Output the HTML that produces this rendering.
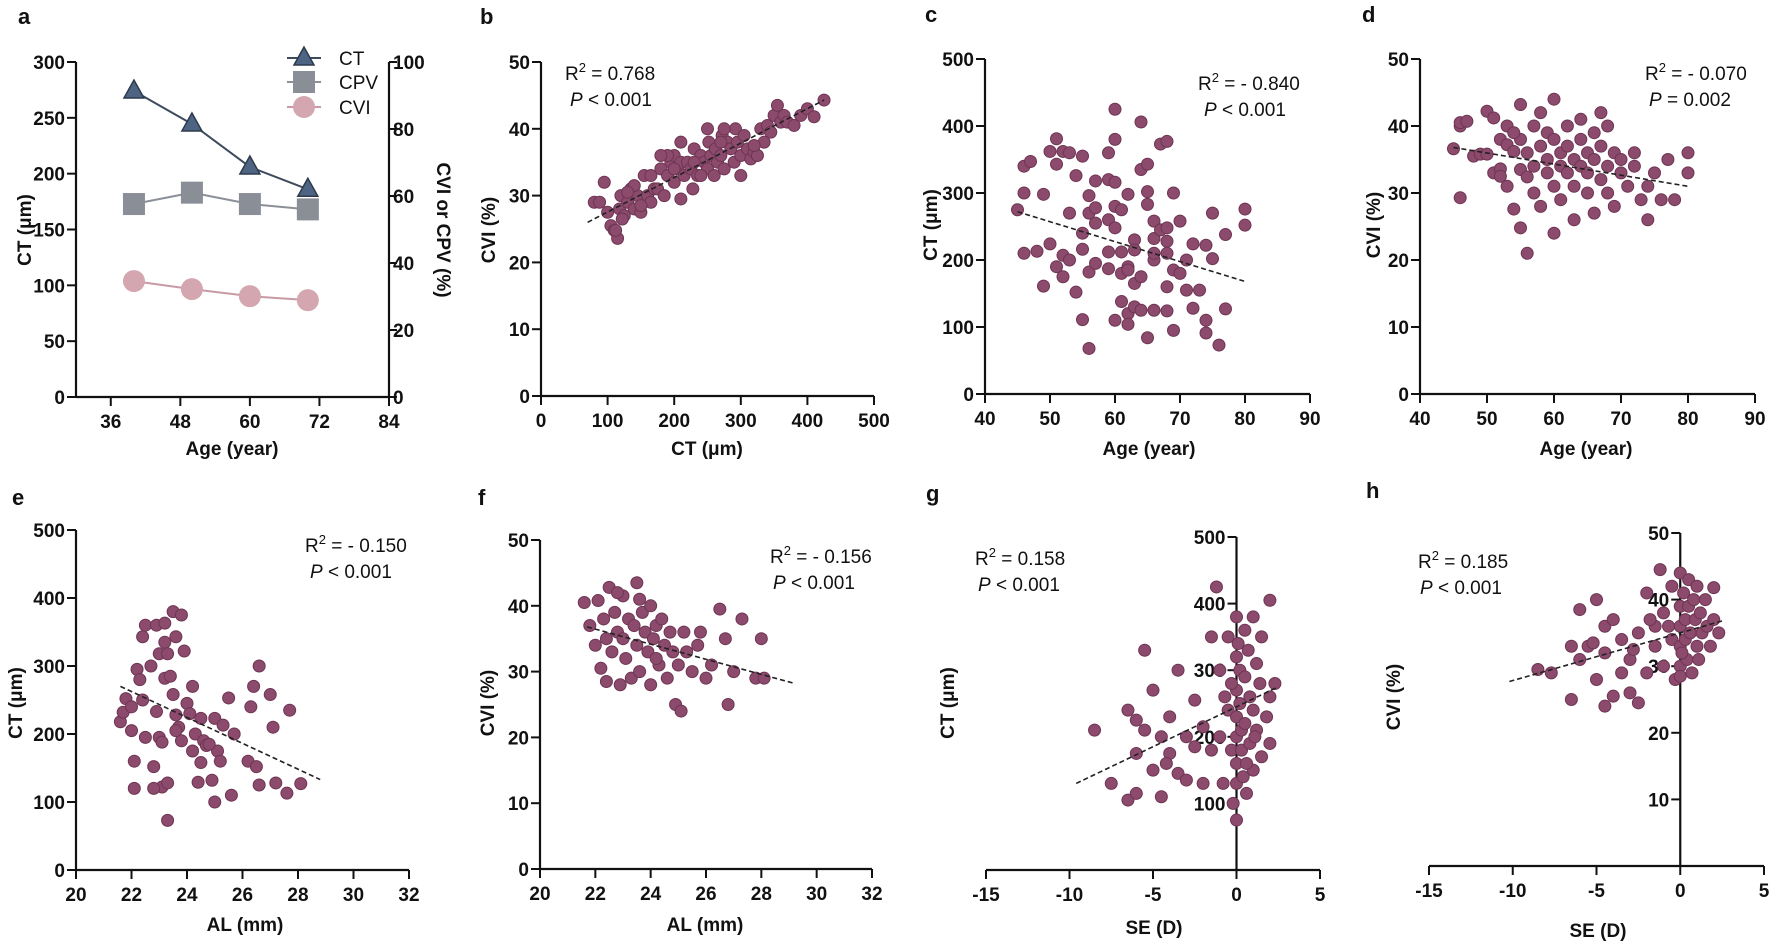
<!DOCTYPE html>
<html><head><meta charset="utf-8">
<style>
html,body{margin:0;padding:0;background:#fff;}
svg{display:block;font-family:"Liberation Sans",Arial,sans-serif;}
.tk{font-size:19px;font-weight:bold;fill:#111;}
.ttl{font-size:19px;font-weight:bold;fill:#111;}
.st{font-size:19px;fill:#111;}
.pl{font-size:22px;font-weight:bold;fill:#111;}
</style></head>
<body>
<svg id="fig" width="1772" height="945" viewBox="0 0 1772 945" xmlns="http://www.w3.org/2000/svg"></svg>
<script>
// ---- Panel a data ----
const aAges=[40,50,60,70];
const aCT=[274,244.5,206,186];
const aCPV=[57.6,61,57.6,56];
const aCVI=[34.6,32.2,30.1,28.9];
// ---- Panel b: CT vs CVI ----
const bX=[80,88,95,100,105,110,115,118,120,125,130,135,140,145,150,155,160,165,170,175,180,185,190,195,200,200,205,210,210,215,220,225,228,230,235,240,245,250,252,255,260,262,265,270,272,275,280,285,290,292,295,300,305,310,315,320,325,330,335,340,345,350,355,360,365,370,380,390,400,410,425,250,275,190,165,140,230,180,210,300,320,200,150,240,270,130,122,112];
const bY=[29,29,32,27.5,25.5,24.8,23.6,28,30,27,29,31,28,30,27.5,33,30,29,31,31,34,30,33,35,32,36,34,29.5,35,33,35,34,31,37,33,36,35,34,38,36,33,37,35,36,39,34,38,37,35,40,38,36,39,37,35.5,36.5,36,40,38,40.5,39.5,42,43.5,41,42,41,40.5,42,43,41.8,44.3,40,40,36,33,31.5,35,36,38,33,37.5,34,28.5,33,38,30.5,26.5,24.8];
// ---- Panel c: Age vs CT ----
const cX=[45,46,46,46,47,48,49,49,50,50,51,51,51,52,52,52,53,53,53,54,54,55,55,55,55,56,56,56,56,57,57,57,57,59,59,59,59,59,60,60,60,60,60,60,61,61,61,61,62,62,62,62,63,63,63,63,64,64,64,65,65,65,65,66,66,66,66,67,67,68,68,68,68,68,68,69,69,69,70,70,71,71,72,72,73,74,74,74,75,75,76,77,77,80,80,62,64,66];
const cY=[275,340,300,210,347,213,298,161,224,362,381,343,190,362,207,175,360,270,200,326,152,355,240,216,111,68,296,270,182,318,278,255,195,360,320,260,212,187,425,380,316,280,248,110,275,212,180,138,298,190,120,104,230,215,165,130,406,335,175,343,302,283,84,258,232,200,125,245,373,377,248,228,210,160,124,95,300,185,258,180,200,155,224,128,155,222,110,91,270,202,73,238,127,276,252,185,125,210];
// ---- Panel d: Age vs CVI ----
const dX=[45,46,46,46,47,48,49,50,50,51,51,52,52,52,53,53,53,54,54,55,55,55,55,56,56,56,57,57,57,58,58,58,59,59,59,60,60,60,60,61,61,61,62,62,62,63,63,63,64,64,64,65,65,65,66,66,66,67,67,67,68,68,68,69,69,70,70,71,72,72,73,74,74,75,76,77,78,80,80,54];
const dY=[36.6,29.3,40,40.5,40.7,35.5,35.8,42.2,35.8,41.2,33,33.6,38,32.5,40,37.2,31,27.6,36.2,43.2,38,24.8,33.5,21,36,32.4,40,34,30,37,28,42,35,33,39,44,38,24,31,36,34,29,40,33,37,35,31,26,38,34,41,36,30,33,39,27,35,42,32,37,34,30,40,36,28,33,35,31,34,36,29,31,26,33,29,35,29,36,33,39];
// ---- Panel e: AL vs CT ----
const eX=[21.6,21.7,21.8,22,22,22.1,22.1,22.2,22.3,22.4,22.4,22.5,22.7,22.8,22.9,22.9,23,23,23.1,23.1,23.2,23.2,23.2,23.3,23.3,23.4,23.5,23.5,23.6,23.6,23.7,23.8,23.8,23.9,24,24.1,24.2,24.2,24.3,24.4,24.5,24.5,24.6,24.7,24.9,25,25,25.1,25.2,25.3,25.5,25.6,25.7,26.2,26.3,26.4,26.5,26.6,26.6,27,27.1,27.2,27.6,27.7,28.1,22.5,23.3,23.6,22.8,24.8];
const eY=[218,232,252,240,205,120,160,295,280,343,250,360,300,152,360,233,318,195,188,122,363,335,282,73,128,285,380,258,343,228,210,375,190,322,245,230,270,175,200,129,158,223,190,183,132,223,100,175,160,213,253,110,200,160,240,270,152,300,125,258,210,128,113,235,127,195,318,205,120,185];
// ---- Panel f: AL vs CVI ----
const fX=[21.6,21.8,22,22.1,22.2,22.3,22.4,22.5,22.6,22.7,22.8,22.9,23,23,23.1,23.2,23.3,23.4,23.5,23.5,23.6,23.7,23.8,23.9,24,24,24.1,24.2,24.3,24.4,24.5,24.6,24.7,24.8,24.9,25,25.1,25.2,25.3,25.5,25.7,26,26.2,26.5,26.7,26.8,27,27.3,27.8,28,28.1,22.8,23.6,24.2,25.8,22.4];
const fY=[40.5,37,34,40.8,30.5,38,35,42.8,33,39,36,28,41.5,35,32,38,29,37,43.5,34,30,39,36,33,40,28,35,37,31,38,34,29,36,33,25,31,24,36,33,30,34,29,31,39.5,35,25,30,38,29,35,29,42,41,32,36,28.5];
// ---- Panel g: SE vs CT ----
const gX=[-8.5,-7.5,-6.5,-6.5,-6,-6,-5.5,-5.5,-5,-5,-4.5,-4.5,-4,-4,-3.5,-3.5,-3,-3,-2.5,-2.5,-2,-2,-1.5,-1.5,-1.2,-1,-1,-0.8,-0.5,-0.5,-0.3,-0.2,0,0,0,0,0,0,0,0,0.2,0.2,0.3,0.3,0.4,0.5,0.5,0.5,0.6,0.7,0.8,0.8,1,1,1,1.2,1.2,1.4,1.5,1.5,1.8,2,2,2,2.3,-0.3,0.1,0.6,-0.7,1.1,-6,-4.2];
const gY=[210,130,105,240,175,115,210,330,270,150,200,110,230,175,145,300,200,135,185,255,130,215,180,350,425,300,200,130,350,240,180,100,380,320,270,230,200,160,130,75,300,250,210,180,140,360,290,220,115,330,260,190,380,240,150,310,210,280,170,350,230,405,260,190,280,280,340,160,260,200,225,160];
// ---- Panel h: SE vs CVI ----
const hX=[-8.5,-7.7,-6.5,-6,-6,-5.5,-5,-5,-4.5,-4.5,-4.5,-4,-4,-3.5,-3.5,-3,-3,-2.5,-2.5,-2,-2,-1.5,-1.5,-1.2,-1,-1,-0.5,-0.5,-0.3,0,0,0,0,0,0,0.2,0.3,0.3,0.4,0.5,0.5,0.6,0.7,0.8,0.9,1,1,1.2,1.3,1.5,1.6,1.8,2,2,2.3,-0.7,0.1,1.1,-2.8,-1.8,-6.5,-5.2];
const hY=[29.5,29,25,38.5,31,33,40,28,32,36,24,37,25.5,29,34,31,26,35,24.5,29,41,33,36,44.5,38,30,42,34,28,44,39,36,33,30,28.5,41,37,34,31,43,39,35,29,40,37,42,33,38,35,40,36,33,41.8,37,35,36,32,31,32.5,37,33,33.5];
// ---- Regression line endpoints ----
const bLine=[[70,26],[425,44.3]];
const cLine=[[45,272],[80,168]];
const dLine=[[45,36.8],[80,31]];
const eLine=[[21.6,270],[28.8,133]];
const fLine=[[21.7,36.8],[29.2,28.2]];
const gLine=[[-9.6,130],[2.5,275]];
const hLine=[[-10.2,27.7],[2.5,36.8]];

const NS='http://www.w3.org/2000/svg';
const svg=document.getElementById('fig');
function mk(tag,attrs,parent,text){
  const e=document.createElementNS(NS,tag);
  for(const k in attrs)e.setAttribute(k,attrs[k]);
  if(text!==undefined)e.textContent=text;
  (parent||svg).appendChild(e);return e;
}
function scale(d0,d1,r0,r1){return v=>r0+(v-d0)/(d1-d0)*(r1-r0);}

function panel(p){
  const g=mk('g',{});
  
  
  const sx=scale(p.xd[0],p.xd[1],p.x0,p.x1), sy=scale(p.yd[0],p.yd[1],p.y0,p.y1);
  const ax=p.yAxisAt!==undefined?sx(p.yAxisAt):p.x0;
  const xa=mk('line',{x1:p.x0,y1:p.y0,x2:p.x1,y2:p.y0,stroke:'#111','stroke-width':2.2},g);
  
  
  const ya=mk('line',{x1:ax,y1:p.y0,x2:ax,y2:p.y1,stroke:'#111','stroke-width':2.2},g);
  
  
  p.xt.forEach(v=>{
    const x=sx(v);
    mk('line',{x1:x,y1:p.y0,x2:x,y2:p.y0+9,stroke:'#111','stroke-width':2},g);
    const t=mk('text',{x:x,y:p.y0+31,'text-anchor':'middle',class:'tk'},g,String(v));
    
    
  });
  p.yt.forEach(v=>{
    const y=sy(v);
    mk('line',{x1:ax,y1:y,x2:ax-9,y2:y,stroke:'#111','stroke-width':2},g);
    const t=mk('text',{x:ax-11,y:y+7,'text-anchor':'end',class:'tk'},g,String(v));
    
    
  });
  const xt=mk('text',{x:p.xtitle[0],y:p.xtitle[1],'text-anchor':'middle',class:'ttl'},g,p.xlabel);
  
  
  const yt=mk('text',{x:0,y:0,'text-anchor':'middle',class:'ttl',transform:`translate(${p.ytitle[0]},${p.ytitle[1]}) rotate(-90)`},g,p.ylabel);
  
  
  const pl=mk('text',{x:p.lab[0],y:p.lab[1],class:'pl'},g,p.letter);
  
  
  if(p.xs){
    p.xs.forEach((v,i)=>{
      const c=mk('circle',{cx:sx(v),cy:sy(p.ys[i]),r:6,fill:'#8c4a6c',stroke:'#6e3553','stroke-width':1},g);
      
      
    });
    const l=mk('line',{x1:sx(p.line[0][0]),y1:sy(p.line[0][1]),x2:sx(p.line[1][0]),y2:sy(p.line[1][1]),stroke:'#222','stroke-width':1.6,'stroke-dasharray':'5,3'},g);
    
    
    const r=mk('text',{x:p.stat[0],y:p.stat[1],class:'st'},g);
    
    
    mk('tspan',{},r,'R');
    mk('tspan',{dy:-8,'font-size':13},r,'2');
    mk('tspan',{dy:8},r,' = '+p.r2);
    const pv=mk('text',{x:p.stat[0]+p.pOff,y:p.stat[1]+26,class:'st'},g);
    
    
    mk('tspan',{'font-style':'italic'},pv,'P');
    mk('tspan',{},pv,p.pv);
  }
  return {sx,sy,g};
}

const A=panel({name:'panel-a',letter:'a',lab:[18,24],x0:76,x1:389,y0:397,y1:62,xd:[30,84],yd:[0,300],
  xt:[36,48,60,72,84],yt:[0,50,100,150,200,250,300],xlabel:'Age (year)',xtitle:[232,455],ylabel:'CT (μm)',ytitle:[31,230]});
(function(){
  const g=A.g, sx=A.sx, sy=A.sy, sr=scale(0,100,397,62);
  [0,20,40,60,80,100].forEach(v=>{
    mk('line',{x1:389,y1:sr(v),x2:397,y2:sr(v),stroke:'#111','stroke-width':2},g);
    const t=mk('text',{x:393,y:sr(v)+7,class:'tk'},g,String(v));
    
    
  });
  mk('line',{x1:389,y1:397,x2:389,y2:62,stroke:'#111','stroke-width':2.2},g);
  const rt=mk('text',{x:0,y:0,'text-anchor':'middle',class:'ttl',transform:'translate(437,230) rotate(90)'},g,'CVI or CPV (%)');
  
  
  const pts=(arr,f)=>arr.map((v,i)=>sx(aAges[i])+','+f(v)).join(' ');
  let l=mk('polyline',{points:pts(aCT,sy),fill:'none',stroke:'#3e4b5e','stroke-width':2},g);
  
  
  l=mk('polyline',{points:pts(aCPV,sr),fill:'none',stroke:'#8a8f98','stroke-width':2},g);
  
  
  l=mk('polyline',{points:pts(aCVI,sr),fill:'none',stroke:'#c89aa5','stroke-width':2},g);
  
  
  const tri=(x,y)=>`${x},${y-11} ${x-10},${y+7} ${x+10},${y+7}`;
  aAges.forEach((a,i)=>{
    let m=mk('polygon',{points:tri(sx(a),sy(aCT[i])),fill:'#4d6483',stroke:'#2e3a4c','stroke-width':1.5},g);
    
    
    m=mk('rect',{x:sx(a)-11,y:sr(aCPV[i])-11,width:22,height:22,fill:'#8a8e97'},g);
    
    
    m=mk('circle',{cx:sx(a),cy:sr(aCVI[i]),r:11,fill:'#d3a6b0'},g);
    
    
  });
  const lg=mk('g',{},g);
  
  
  const ly=[58,82,107], names=['CT','CPV','CVI'], cols=['#3e4b5e','#8a8f98','#c89aa5'];
  ly.forEach((y,i)=>{
    mk('line',{x1:287,y1:y,x2:321,y2:y,stroke:cols[i],'stroke-width':2},lg);
    if(i==0)mk('polygon',{points:tri(304,y),fill:'#4d6483',stroke:'#2e3a4c','stroke-width':1.5},lg);
    if(i==1)mk('rect',{x:293,y:y-11,width:22,height:22,fill:'#8a8e97'},lg);
    if(i==2)mk('circle',{cx:304,cy:y,r:11,fill:'#d3a6b0'},lg);
    const t=mk('text',{x:339,y:y+7,class:'st','font-size':20},lg,names[i]);
    
    
  });
})();

panel({name:'panel-b',letter:'b',lab:[480,24],x0:541,x1:874,y0:396,y1:62,xd:[0,500],yd:[0,50],
  xt:[0,100,200,300,400,500],yt:[0,10,20,30,40,50],xlabel:'CT (μm)',xtitle:[707,455],ylabel:'CVI (%)',ytitle:[495,230],
  xs:bX,ys:bY,line:bLine,stat:[565,80],pOff:5,r2:'0.768',pv:' < 0.001'});
panel({name:'panel-c',letter:'c',lab:[925,22],x0:985,x1:1310,y0:394,y1:59,xd:[40,90],yd:[0,500],
  xt:[40,50,60,70,80,90],yt:[0,100,200,300,400,500],xlabel:'Age (year)',xtitle:[1149,455],ylabel:'CT (μm)',ytitle:[937,225],
  xs:cX,ys:cY,line:cLine,stat:[1198,90],pOff:6,r2:'- 0.840',pv:' < 0.001'});
panel({name:'panel-d',letter:'d',lab:[1362,22],x0:1420,x1:1755,y0:394,y1:59,xd:[40,90],yd:[0,50],
  xt:[40,50,60,70,80,90],yt:[0,10,20,30,40,50],xlabel:'Age (year)',xtitle:[1586,455],ylabel:'CVI (%)',ytitle:[1380,225],
  xs:dX,ys:dY,line:dLine,stat:[1645,80],pOff:4,r2:'- 0.070',pv:' = 0.002'});
panel({name:'panel-e',letter:'e',lab:[12,505],x0:76,x1:409,y0:870,y1:530,xd:[20,32],yd:[0,500],
  xt:[20,22,24,26,28,30,32],yt:[0,100,200,300,400,500],xlabel:'AL (mm)',xtitle:[245,931],ylabel:'CT (μm)',ytitle:[22,703],
  xs:eX,ys:eY,line:eLine,stat:[305,552],pOff:5,r2:'- 0.150',pv:' < 0.001'});
panel({name:'panel-f',letter:'f',lab:[478,505],x0:540,x1:872,y0:869,y1:540,xd:[20,32],yd:[0,50],
  xt:[20,22,24,26,28,30,32],yt:[0,10,20,30,40,50],xlabel:'AL (mm)',xtitle:[705,931],ylabel:'CVI (%)',ytitle:[494,703],
  xs:fX,ys:fY,line:fLine,stat:[770,563],pOff:3,r2:'- 0.156',pv:' < 0.001'});
panel({name:'panel-g',letter:'g',lab:[926,501],x0:986,x1:1320,y0:870,y1:537,xd:[-15,5],yd:[0,500],yAxisAt:0,
  xt:[-15,-10,-5,0,5],yt:[100,200,300,400,500],xlabel:'SE (D)',xtitle:[1154,934],ylabel:'CT (μm)',ytitle:[954,703],
  xs:gX,ys:gY,line:gLine,stat:[975,565],pOff:3,r2:'0.158',pv:' < 0.001'});
panel({name:'panel-h',letter:'h',lab:[1366,498],x0:1429,x1:1764,y0:866,y1:533,xd:[-15,5],yd:[0,50],yAxisAt:0,
  xt:[-15,-10,-5,0,5],yt:[10,20,30,40,50],xlabel:'SE (D)',xtitle:[1598,937],ylabel:'CVI (%)',ytitle:[1400,697],
  xs:hX,ys:hY,line:hLine,stat:[1418,568],pOff:2,r2:'0.185',pv:' < 0.001'});
</script>
</body></html>
